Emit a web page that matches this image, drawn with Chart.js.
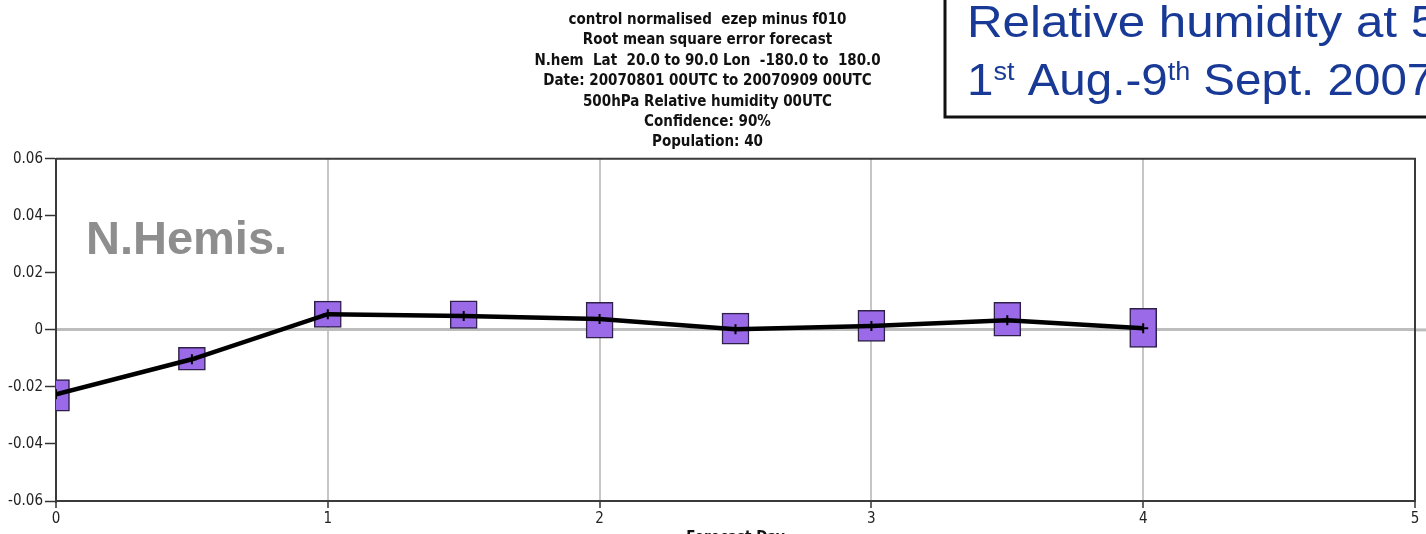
<!DOCTYPE html>
<html>
<head>
<meta charset="utf-8">
<script src="https://cdn.jsdelivr.net/npm/chart.js@4.4.1/dist/chart.umd.min.js"></script>
<style>
  html, body { margin: 0; padding: 0; background: #fff; }
  #wrap { width: 1426px; height: 534px; overflow: hidden; }
</style>
</head>
<body>
<div id="wrap"><canvas id="grafico" width="1426" height="534"></canvas></div>
<script>
// Dados
const dias = [0, 0.5, 1, 1.5, 2, 2.5, 3, 3.5, 4];
const diferenca = [-0.0226, -0.0103, 0.0055, 0.0049, 0.0038, 0.0002, 0.0014, 0.0034, 0.0006];
const limiteInf = [-0.0285, -0.0141, 0.0009, 0.0000, -0.0029, -0.0050, -0.0040, -0.0022, -0.0061];
const limiteSup = [-0.0174, -0.0061, 0.0101, 0.0102, 0.0097, 0.0059, 0.0069, 0.0097, 0.0076];
const xTicks = [0, 1, 2, 3, 4, 5];
const yTicks = [-0.06, -0.04, -0.02, 0, 0.02, 0.04, 0.06];

const titulo = [
    'control normalised  ezep minus f010',
    'Root mean square error forecast',
    'N.hem  Lat  20.0 to 90.0 Lon  -180.0 to  180.0',
    'Date: 20070801 00UTC to 20070909 00UTC',
    '500hPa Relative humidity 00UTC',
    'Confidence: 90%',
    'Population: 40'
];

const FONTE_ESTREITA = '"Liberation Sans Narrow", "DejaVu Sans Condensed", "Liberation Sans", sans-serif';

// Moldura, caixa azul e etiqueta N.Hemis.
const extras = {
    id: 'extras',
    afterDraw(chart) {
        const { ctx, chartArea: a, scales } = chart;
        ctx.save();

        // linha do zero prolongada até à margem
        const y0 = scales.y.getPixelForValue(0);
        ctx.strokeStyle = '#bdbdbd';
        ctx.lineWidth = 3;
        ctx.beginPath();
        ctx.moveTo(a.right, y0);
        ctx.lineTo(chart.width, y0);
        ctx.stroke();

        // topo e lado direito
        ctx.strokeStyle = '#3a3a3a';
        ctx.lineWidth = 2;
        ctx.beginPath();
        ctx.moveTo(a.left, a.top);
        ctx.lineTo(a.right, a.top);
        ctx.lineTo(a.right, a.bottom);
        ctx.stroke();

        // N.Hemis.
        ctx.fillStyle = '#8e8e8e';
        ctx.font = 'bold 47px "Liberation Sans", Arial, sans-serif';
        ctx.textBaseline = 'alphabetic';
        ctx.fillText('N.Hemis.', 86, 254);

        // caixa com o título azul
        ctx.fillStyle = '#ffffff';
        ctx.fillRect(945, -5, 500, 122);
        ctx.strokeStyle = '#111';
        ctx.lineWidth = 3;
        ctx.strokeRect(945, -5, 500, 122);

        ctx.fillStyle = '#183a96';
        const grande = '44px "Liberation Sans", Arial, sans-serif';
        const pequena = '25px "Liberation Sans", Arial, sans-serif';
        ctx.save();
        ctx.translate(967, 0);
        ctx.scale(1.12, 1);
        ctx.font = grande;
        ctx.fillText('Relative humidity at 500hPa', 0, 37);
        ctx.restore();

        // segunda linha com sobrescritos
        ctx.save();
        ctx.translate(967, 0);
        ctx.scale(1.08, 1);
        const partes = [['1', grande, 0], ['st', pequena, -15], [' Aug.-9', grande, 0], ['th', pequena, -15], [' Sept. 2007', grande, 0]];
        let x = 0;
        partes.forEach(([t, f, dy]) => {
            ctx.font = f;
            ctx.fillText(t, x, 95 + dy);
            x += ctx.measureText(t).width;
        });
        ctx.restore();

        ctx.restore();
    }
};

new Chart(document.getElementById('grafico'), {
    data: {
        datasets: [
            {
                type: 'line',
                label: 'ezep minus f010',
                data: dias.map((d, i) => ({ x: d, y: diferenca[i] })),
                borderColor: '#000',
                borderWidth: 4.5,
                pointStyle: 'cross',
                pointRadius: 5,
                pointBorderWidth: 2,
                pointBorderColor: '#000',
                tension: 0,
                order: 0
            },
            {
                type: 'bar',
                label: 'Confidence 90%',
                data: dias.map((d, i) => ({ x: d, y: [limiteInf[i], limiteSup[i]] })),
                backgroundColor: '#9a6ae8',
                borderColor: '#2e2048',
                borderWidth: 1.5,
                borderSkipped: false,
                barThickness: 27,
                order: 1
            }
        ]
    },
    options: {
        responsive: false,
        animation: false,
        layout: { padding: { left: 0, right: 11, top: 0, bottom: 0 } },
        plugins: {
            legend: { display: false },
            tooltip: { enabled: false },
            title: {
                display: true,
                text: titulo,
                color: '#111',
                font: { family: FONTE_ESTREITA, size: 15, weight: 'bold', lineHeight: 20.4 / 15 },
                padding: { top: 10, bottom: 6 }
            }
        },
        scales: {
            x: {
                type: 'linear',
                min: 0,
                max: 5,
                offset: false,
                afterFit: s => { s.height = 33; },
                afterBuildTicks: s => { s.ticks = xTicks.map(v => ({ value: v })); },
                ticks: {
                    color: '#222',
                    font: { family: FONTE_ESTREITA, size: 15 },
                    padding: 2,
                    maxRotation: 0,
                    callback: v => String(v)
                },
                grid: {
                    offset: false,
                    color: c => (c.tick && c.tick.value > 0 && c.tick.value < 5) ? '#c6c6c6' : 'rgba(0,0,0,0)',
                    lineWidth: 2,
                    tickColor: '#333',
                    tickLength: 7,
                    tickWidth: 1.5
                },
                border: { display: true, color: '#3a3a3a', width: 2 },
                title: {
                    display: true,
                    text: 'Forecast Day',
                    color: '#111',
                    font: { family: FONTE_ESTREITA, size: 15, weight: 'bold' },
                    padding: { top: 0, bottom: -13 }
                }
            },
            y: {
                type: 'linear',
                min: -0.06,
                max: 0.06,
                afterFit: s => { s.width = 56; },
                afterBuildTicks: s => { s.ticks = yTicks.map(v => ({ value: v })); },
                ticks: {
                    color: '#222',
                    font: { family: FONTE_ESTREITA, size: 15 },
                    padding: 2,
                    callback: v => Math.abs(v) < 1e-9 ? '0' : v.toFixed(2)
                },
                grid: {
                    color: c => (c.tick && Math.abs(c.tick.value) < 1e-9) ? '#bdbdbd' : 'rgba(0,0,0,0)',
                    lineWidth: 3,
                    tickColor: '#333',
                    tickLength: 11,
                    tickWidth: 1.5
                },
                border: { display: true, color: '#3a3a3a', width: 2 }
            }
        }
    },
    plugins: [extras]
});
</script>
</body>
</html>
